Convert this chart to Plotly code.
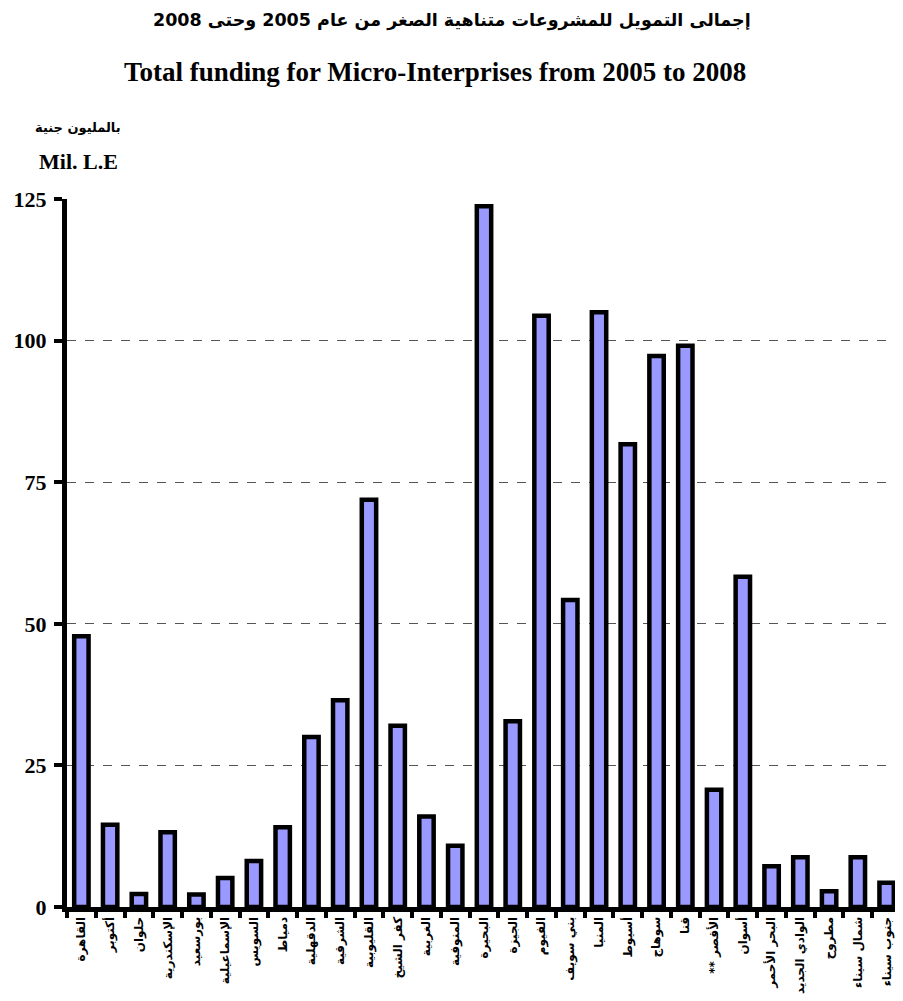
import plotly.graph_objects as go

categories = [
    "القاهرة", "أكتوبر", "حلوان", "الإسكندرية", "بورسعيد", "الإسماعيلية",
    "السويس", "دمياط", "الدقهلية", "الشرقية", "القليوبية", "كفر الشيخ",
    "الغربية", "المنوفية", "البحيرة", "الجيزة", "الفيوم", "بني سويف",
    "المنيا", "أسيوط", "سوهاج", "قنا", "الأقصر **\u200f", "أسوان",
    "البحر الأحمر", "الوادي الجديد", "مطروح", "شمال سيناء", "جنوب سيناء",
]
values = [
    47.8, 14.5, 2.3, 13.2, 2.2, 5.1,
    8.1, 14.1, 30.0, 36.5, 71.9, 32.0,
    16.0, 10.8, 123.7, 32.8, 104.4, 54.2,
    105.0, 81.7, 97.3, 99.1, 20.7, 58.3,
    7.2, 8.8, 2.8, 8.8, 4.3,
]
y_ticks = [0, 25, 50, 75, 100, 125]
grid_vals = [25, 50, 75, 100]

title_ar = "إجمالى التمويل للمشروعات متناهية الصغر من عام 2005 وحتى 2008"
title_en = "Total funding for Micro-Interprises from 2005 to 2008"
unit_ar = "بالمليون جنية"
unit_en = "Mil. L.E"

SERIF = "Liberation Serif, Times New Roman, serif"
AR = "DejaVu Sans, Liberation Serif"

# page body has an 8px margin: figure origin sits at (8, 8) of the window
OFF = 8
W, H = 903 - OFF, 1001 - OFF
L, T = 67 - OFF, 199 - OFF
PW, PH = 834, 708
R, B = W - L - PW, H - T - PH

fig = go.Figure(
    go.Bar(
        x=categories,
        y=values,
        marker=dict(color="#9999FF", line=dict(color="black", width=4.5)),
    )
)

fig.update_layout(
    width=W,
    height=H,
    margin=dict(l=L, r=R, t=T, b=B, autoexpand=False),
    paper_bgcolor="white",
    plot_bgcolor="white",
    bargap=0.5,
    showlegend=False,
    font=dict(family=SERIF, color="black"),
)

fig.update_yaxes(
    range=[0, 125],
    tickvals=y_ticks,
    ticktext=[str(v) for v in y_ticks],
    ticks="outside",
    ticklen=8,
    tickwidth=4,
    tickcolor="black",
    showline=True,
    linewidth=5,
    linecolor="black",
    showgrid=False,
    zeroline=False,
    tickfont=dict(family=SERIF, size=22, color="black", weight="bold"),
    ticklabelstandoff=3,
    minor=dict(
        tickvals=grid_vals,
        showgrid=True,
        gridcolor="#555555",
        gridwidth=1,
        griddash="dash",
        ticks="",
    ),
)

fig.update_xaxes(
    type="category",
    tickson="boundaries",
    ticks="outside",
    ticklen=6,
    tickwidth=4,
    tickcolor="black",
    showline=True,
    linewidth=5,
    linecolor="black",
    showgrid=False,
    tickangle=-90,
    tickfont=dict(family=AR, size=12, color="black", weight="bold"),
)

annotations = [
    dict(text=title_ar, x=452, y=20, font=dict(family=AR, size=17.5, weight="bold")),
    dict(text=title_en, x=435, y=72, font=dict(family=SERIF, size=27, weight="bold")),
    dict(text=unit_ar, x=78, y=128, font=dict(family=AR, size=13, weight="bold")),
    dict(text=unit_en, x=78, y=161, font=dict(family=SERIF, size=22, weight="bold")),
]
for a in annotations:
    fig.add_annotation(
        text=a["text"],
        xref="paper",
        yref="paper",
        x=(a["x"] - OFF - L) / PW,
        y=1 + (T - (a["y"] - OFF)) / PH,
        xanchor="center",
        yanchor="middle",
        showarrow=False,
        font=dict(color="black", **a["font"]),
    )

fig.write_html("out.html")
